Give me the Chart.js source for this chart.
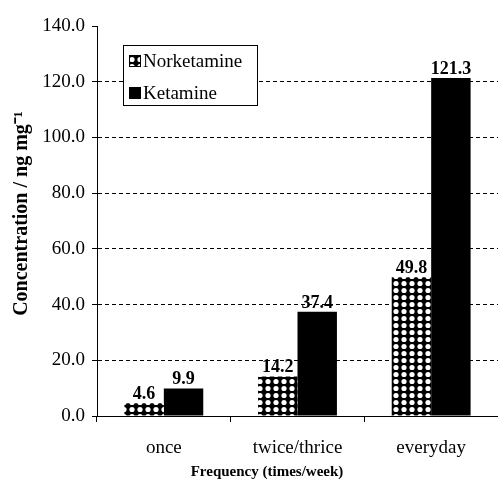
<!DOCTYPE html>
<html>
<head>
<meta charset="utf-8">
<script src="https://cdn.jsdelivr.net/npm/chart.js@4.4.0/dist/chart.umd.min.js"></script>
<style>
body{margin:0;background:#fff;}
</style>
</head>
<body>
<canvas id="myChart" width="498" height="483"></canvas>
<script>
const categories=['once','twice/thrice','everyday'];
const norketamine=[4.6,14.2,49.8];
const ketamine=[9.9,37.4,121.3];
const yTicks=[0,20,40,60,80,100,120,140];
const xTitle='Frequency (times/week)';

const serif="'Liberation Serif','Times New Roman',serif";

// dotted fill like the print
function dotPattern(){
    let c=document.createElement('canvas');
    c.width=8;c.height=7;
    let g=c.getContext('2d');
    g.fillStyle='#000';
    g.fillRect(0,0,8,7);
    g.fillStyle='#fff';
    g.beginPath();
    g.arc(4,3.5,2.6,0,Math.PI*2);
    g.fill();
    return g.createPattern(c,'repeat');
}
const dots=dotPattern();

const valueLabels={
    id:'valueLabels',
    afterDatasetsDraw(chart){
        const ctx=chart.ctx;
        ctx.save();
        ctx.font='bold 18px '+serif;
        ctx.fillStyle='#000';
        ctx.textAlign='center';
        ctx.textBaseline='alphabetic';
        chart.data.datasets.forEach((ds,i)=>{
            chart.getDatasetMeta(i).data.forEach((bar,j)=>{
                ctx.fillText(ds.data[j].toFixed(1),bar.x,bar.y-4);
            });
        });
        ctx.restore();
    }
};

// legend box sits inside the plot, top left
const boxLegend={
    id:'boxLegend',
    afterDraw(chart){
        const ctx=chart.ctx;
        const a=chart.chartArea;
        const x=a.left+26, y=a.top+19, w=134, h=60;
        ctx.save();
        ctx.fillStyle='#fff';
        ctx.fillRect(x,y,w,h);
        ctx.strokeStyle='#000';
        ctx.lineWidth=1;
        ctx.strokeRect(x+0.5,y+0.5,w,h);
        ctx.font='normal 19px '+serif;
        ctx.textBaseline='middle';
        chart.data.datasets.forEach((ds,i)=>{
            let ry=y+16+i*32;
            ctx.fillStyle=ds.backgroundColor;
            ctx.fillRect(x+6,ry-6,12,12);
            ctx.strokeStyle='#000';
            ctx.strokeRect(x+6.5,ry-5.5,11,11);
            ctx.fillStyle='#000';
            ctx.fillText(ds.label,x+20,ry+1);
        });
        ctx.restore();
    }
};

// x axis title, set a bit left of the plot centre as in the print
const xAxisTitle={
    id:'xAxisTitle',
    afterDraw(chart){
        const ctx=chart.ctx;
        const a=chart.chartArea;
        ctx.save();
        ctx.font='bold 15px '+serif;
        ctx.fillStyle='#000';
        ctx.textAlign='center';
        ctx.textBaseline='middle';
        ctx.fillText(xTitle,a.left+170,a.bottom+56);
        ctx.restore();
    }
};

new Chart(document.getElementById('myChart'),{
    type:'bar',
    data:{
        labels:categories,
        datasets:[
            {label:'Norketamine',data:norketamine,backgroundColor:dots,borderWidth:0},
            {label:'Ketamine',data:ketamine,backgroundColor:'#000',borderWidth:0}
        ]
    },
    options:{
        responsive:false,
        animation:false,
        devicePixelRatio:1,
        layout:{padding:{left:0,right:0,top:26,bottom:0}},
        datasets:{bar:{categoryPercentage:0.59,barPercentage:1}},
        plugins:{legend:{display:false},tooltip:{enabled:false}},
        scales:{
            x:{
                afterFit(scale){scale.height=67;},
                grid:{display:true,drawOnChartArea:false,offset:true,tickLength:6,color:'#000',tickColor:'#000'},
                border:{color:'#000',width:1},
                ticks:{color:'#000',font:{family:serif,size:19},padding:15}
            },
            y:{
                min:0,max:140,
                afterBuildTicks(scale){scale.ticks=yTicks.map(v=>({value:v}));},
                afterFit(scale){scale.width=97;},
                grid:{
                    color:c=>(c.tick&&(c.tick.value===0||c.tick.value===140))?'rgba(0,0,0,0)':'#000',
                    tickColor:'#000',tickLength:5,tickBorderDash:[]
                },
                border:{color:'#000',width:1,dash:[4,3]},
                ticks:{color:'#000',font:{family:serif,size:19},padding:7,callback:v=>v.toFixed(1)},
                title:{display:true,text:'   Concentration / ng mg\u207B\u00B9',color:'#000',font:{family:serif,size:20,weight:'bold'},padding:{top:10,bottom:0}}
            }
        }
    },
    plugins:[valueLabels,boxLegend,xAxisTitle]
});
</script>
</body>
</html>
